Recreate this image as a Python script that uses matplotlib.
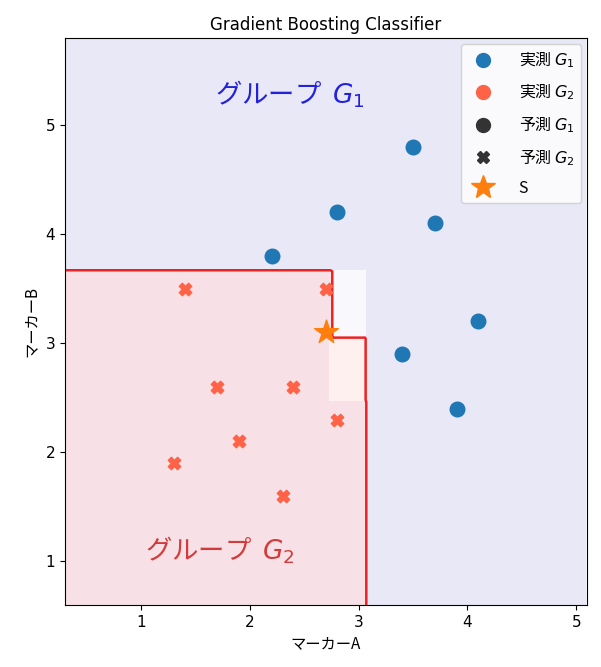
import numpy as np
import matplotlib
matplotlib.use('Agg')
import matplotlib.pyplot as plt
from matplotlib.colors import LinearSegmentedColormap
from matplotlib.lines import Line2D

plt.rcParams['font.family'] = ['DejaVu Sans', 'Noto Sans CJK JP']
jp = ['Noto Sans CJK JP', 'DejaVu Sans']

# measured samples
g1_x = [3.5, 2.8, 3.7, 2.2, 4.1, 3.4, 3.9]
g1_y = [4.8, 4.2, 4.1, 3.8, 3.2, 2.9, 2.4]
g2_x = [1.4, 2.7, 1.7, 2.4, 1.9, 2.8, 1.3, 2.3]
g2_y = [3.5, 3.5, 2.6, 2.6, 2.1, 2.3, 1.9, 1.6]
s_x, s_y = 2.7, 3.1

# split points
split_a = [2.76, 3.08]
split_b = [2.47, 3.06, 3.68]
# probability of G2 in each region
p_core, p_g1, p_white, p_light = 1.0, 0.0, 0.42, 0.62

x_min, x_max = min(g1_x + g2_x) - 1, max(g1_x + g2_x) + 1
y_min, y_max = min(g1_y + g2_y) - 1, max(g1_y + g2_y) + 1

xx, yy = np.meshgrid(np.arange(x_min, x_max, 0.02), np.arange(y_min, y_max, 0.02))
prob = np.full(xx.shape, p_g1)
prob[(xx < split_a[0]) & (yy < split_b[2])] = p_core
prob[(xx >= split_a[0]) & (xx < split_a[1]) & (yy < split_b[1])] = p_core
prob[(xx >= split_a[0]) & (xx < split_a[1]) & (yy >= split_b[1]) & (yy < split_b[2])] = p_white
prob[(xx >= split_a[0] - 0.02) & (xx < split_a[1]) & (yy >= split_b[0]) & (yy < split_b[1])] = p_light

cmap = LinearSegmentedColormap.from_list(
    'bg', [(0.0, '#e8e8f6'), (0.5, '#fcfcfe'), (0.62, '#fdf0ee'), (1.0, '#f8e1e6')])

fig = plt.figure(figsize=(6.01, 6.67), dpi=100)
ax = fig.add_axes([0.108, 0.093, 0.869, 0.85])

ax.pcolormesh(xx, yy, prob, cmap=cmap, vmin=0, vmax=1, shading='auto')
ax.contour(xx, yy, prob, levels=[0.5], colors='#ee2222', linewidths=1.8)

ax.scatter(g1_x, g1_y, s=110, color='#1f77b4', marker='o', zorder=3)
ax.scatter(g2_x, g2_y, s=80, color='tomato', marker='X', zorder=3)
ax.scatter([s_x], [s_y], s=320, color='#ff7f0e', marker='*', zorder=4)

ax.text(2.37, 5.28, 'グループ  $G_1$', color='#2222dd', fontsize=19,
        ha='center', va='center', family=jp)
ax.text(1.72, 1.1, 'グループ  $G_2$', color='#d43a3a', fontsize=19,
        ha='center', va='center', family=jp)

ax.set_xlim(x_min, x_max)
ax.set_ylim(y_min, y_max)
ax.set_xticks([1, 2, 3, 4, 5])
ax.set_yticks([1, 2, 3, 4, 5])
ax.tick_params(labelsize=11)
ax.set_xlabel('マーカーA', fontsize=11, family=jp)
ax.set_ylabel('マーカーB', fontsize=11, family=jp)
ax.set_title('Gradient Boosting Classifier', fontsize=12)

handles = [
    Line2D([], [], marker='o', ls='', color='#1f77b4', markersize=10),
    Line2D([], [], marker='o', ls='', color='tomato', markersize=10),
    Line2D([], [], marker='o', ls='', color='#333333', markersize=10),
    Line2D([], [], marker='X', ls='', color='#333333', markersize=9),
    Line2D([], [], marker='*', ls='', color='#ff7f0e', markersize=18),
]
labels = ['実測 $G_1$', '実測 $G_2$', '予測 $G_1$', '予測 $G_2$', 'S']
ax.legend(handles, labels, loc='upper right', prop={'family': jp, 'size': 11.5},
          labelspacing=0.75, handletextpad=1.2, framealpha=0.8, borderaxespad=0.4)

fig.savefig('out.png', dpi=100)
